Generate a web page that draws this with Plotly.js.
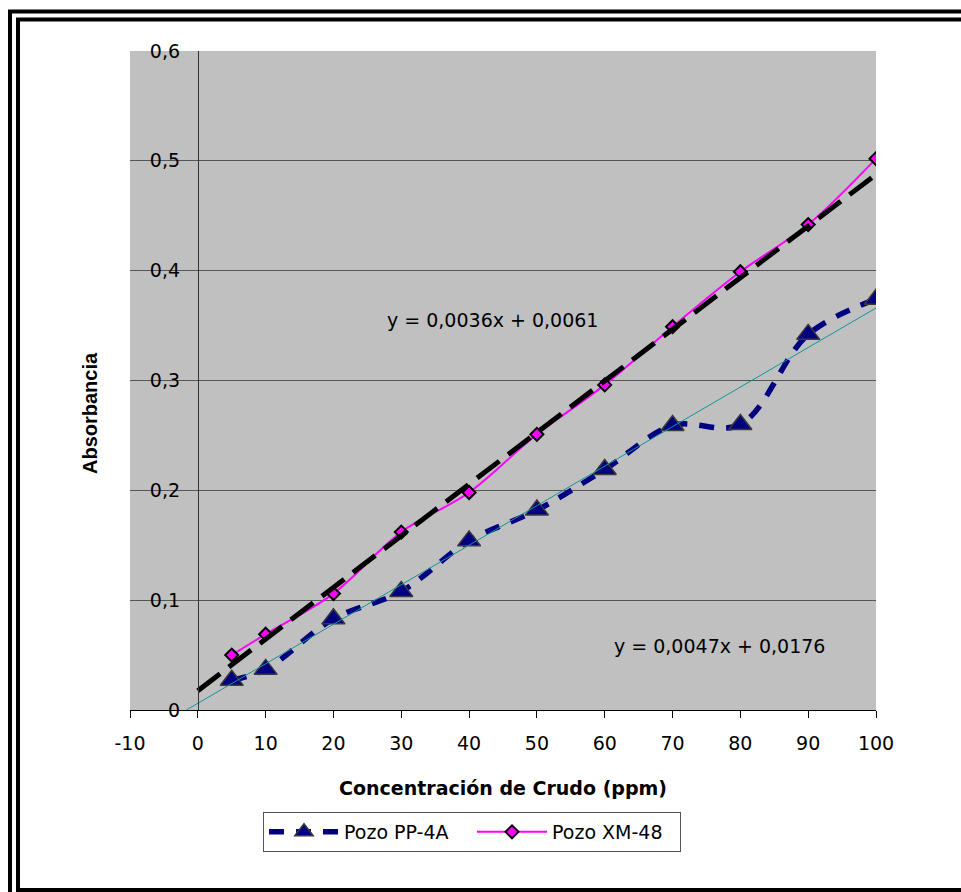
<!DOCTYPE html>
<html>
<head>
<meta charset="utf-8">
<script src="https://cdn.plot.ly/plotly-3.0.1.min.js"></script>
<style>
  html, body { margin: 0; padding: 0; background: #ffffff; }
  #chart { width: 961px; height: 892px; }
</style>
</head>
<body>
<div id="chart"></div>
<script>
// ---- data ----
const concentracion = [5, 10, 20, 30, 40, 50, 60, 70, 80, 90, 100];
const pozoPP4A = [0.027, 0.037, 0.083, 0.108, 0.154, 0.182, 0.219, 0.259, 0.260, 0.342, 0.374];
const pozoXM48 = [0.050, 0.069, 0.106, 0.162, 0.198, 0.251, 0.296, 0.349, 0.399, 0.442, 0.502];

// trendline end points (as drawn in the reference)
const trendPPx = [-1.69, 100];
const trendPPy = [0, 0.366];
const trendXMx = [0, 100];
const trendXMy = [0.0176, 0.4876];

const eqPP = "y = 0,0036x + 0,0061";
const eqXM = "y = 0,0047x + 0,0176";

const xTickVals = [-10, 0, 10, 20, 30, 40, 50, 60, 70, 80, 90, 100];
const xTickText = ["-10", "0", "10", "20", "30", "40", "50", "60", "70", "80", "90", "100"];
const yTickVals = [0, 0.1, 0.2, 0.3, 0.4, 0.5, 0.6];
const yTickText = ["0", "0,1", "0,2", "0,3", "0,4", "0,5", "0,6"];

const FONT = "DejaVu Sans, Verdana, sans-serif";

// ---- plot area geometry (px) ----
const L = 130, R = 876, T = 51, B = 710, W = 961, H = 892;
const px2x = p => (p - L) / (R - L);
const py2y = p => (B - p) / (B - T);

const traces = [
  {
    name: "Pozo PP-4A", x: concentracion, y: pozoPP4A, type: "scatter", mode: "lines+markers",
    line: { color: "#000080", width: 5.5, dash: "15px,12px", shape: "spline", smoothing: 1 },
    marker: { symbol: "triangle-up", size: 20, color: "#000080", line: { color: "#3a3a3a", width: 1.5 } }
  },
  {
    name: "Pozo XM-48", x: concentracion, y: pozoXM48, type: "scatter", mode: "lines+markers",
    line: { color: "#FF00FF", width: 2, shape: "spline", smoothing: 1 },
    marker: { symbol: "diamond", size: 10, color: "#FF00FF", line: { color: "#000000", width: 2 } }
  },
  {
    name: "trend PP", x: trendPPx, y: trendPPy, type: "scatter", mode: "lines", showlegend: false,
    line: { color: "#129494", width: 1 }, hoverinfo: "skip"
  },
  {
    name: "trend XM", x: trendXMx, y: trendXMy, type: "scatter", mode: "lines", showlegend: false,
    line: { color: "#000000", width: 5, dash: "28px,11px" }, hoverinfo: "skip"
  }
];

const layout = {
  width: W, height: H,
  margin: { l: L, r: W - R, t: T, b: H - B, pad: 0 },
  paper_bgcolor: "#ffffff",
  plot_bgcolor: "#C0C0C0",
  font: { family: FONT, size: 19, color: "#000000" },
  separators: ",.",
  showlegend: true,
  xaxis: {
    range: [-10, 100], domain: [0, 1],
    tickmode: "array", tickvals: xTickVals, ticktext: xTickText,
    ticks: "outside", ticklen: 7, tickcolor: "#000000", tickwidth: 1,
    showline: true, linecolor: "#000000", linewidth: 1,
    showgrid: false, zeroline: false,
    tickfont: { family: FONT, size: 19, color: "#000000" },
    ticklabelstandoff: 9,
    title: { text: "Concentración de Crudo (ppm)", font: { family: FONT, size: 19, color: "#000000", weight: "bold" }, standoff: 28 }
  },
  yaxis: {
    range: [0, 0.6], anchor: "free", position: 10 / 110,
    tickmode: "array", tickvals: yTickVals, ticktext: yTickText,
    ticks: "", showline: true, linecolor: "#333333", linewidth: 1,
    showgrid: true, gridcolor: "#555555", gridwidth: 1, zeroline: false,
    tickfont: { family: FONT, size: 19, color: "#000000" },
    ticklabelstandoff: 14
  },
  legend: {
    orientation: "h", x: px2x(263), y: py2y(812), xanchor: "left", yanchor: "top",
    bgcolor: "#ffffff", bordercolor: "#555555", borderwidth: 1,
    font: { family: FONT, size: 19, color: "#000000" },
    itemwidth: 70, entrywidth: 123, entrywidthmode: "pixels", tracegroupgap: 0, traceorder: "normal"
  },
  annotations: [
    { xref: "paper", yref: "paper", x: px2x(90), y: py2y(413), text: "<b>Absorbancia</b>", textangle: -90,
      showarrow: false, xanchor: "center", yanchor: "middle",
      font: { family: "Liberation Sans, Arial, sans-serif", size: 20, color: "#000000" } },
    { xref: "paper", yref: "paper", x: px2x(385), y: py2y(320), text: eqPP, showarrow: false,
      xanchor: "left", yanchor: "middle", font: { family: FONT, size: 19, color: "#000000" } },
    { xref: "paper", yref: "paper", x: px2x(612), y: py2y(646), text: eqXM, showarrow: false,
      xanchor: "left", yanchor: "middle", font: { family: FONT, size: 19, color: "#000000" } }
  ],
  shapes: [
    { type: "rect", xref: "paper", yref: "paper", x0: px2x(10), x1: px2x(1000), y0: py2y(11.5), y1: py2y(960),
      line: { color: "#000000", width: 4 }, fillcolor: "rgba(0,0,0,0)", layer: "above" },
    { type: "rect", xref: "paper", yref: "paper", x0: px2x(18), x1: px2x(990), y0: py2y(19.5), y1: py2y(890),
      line: { color: "#000000", width: 4 }, fillcolor: "rgba(0,0,0,0)", layer: "above" }
  ]
};

Plotly.newPlot("chart", traces, layout, { displayModeBar: false, staticPlot: true });
</script>
</body>
</html>
